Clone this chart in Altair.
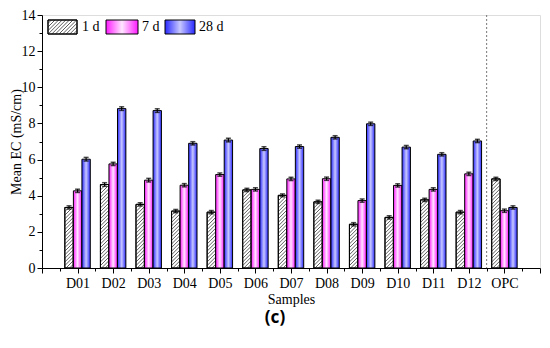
import altair as alt
import pandas as pd

samples = ["D01", "D02", "D03", "D04", "D05", "D06", "D07", "D08", "D09", "D10", "D11", "D12", "OPC"]
positions = list(range(1, 14))
ec_1d = [3.35, 4.62, 3.52, 3.15, 3.09, 4.32, 4.02, 3.66, 2.42, 2.80, 3.77, 3.09, 4.93]
ec_7d = [4.27, 5.76, 4.86, 4.58, 5.17, 4.35, 4.93, 4.94, 3.73, 4.57, 4.35, 5.21, 3.17]
ec_28d = [6.02, 8.82, 8.71, 6.90, 7.08, 6.61, 6.72, 7.23, 7.98, 6.69, 6.29, 7.03, 3.35]
err_1d = [0.09, 0.10, 0.09, 0.09, 0.09, 0.09, 0.08, 0.09, 0.09, 0.09, 0.09, 0.09, 0.09]
err_7d = [0.09, 0.09, 0.10, 0.09, 0.09, 0.09, 0.09, 0.09, 0.09, 0.09, 0.09, 0.09, 0.09]
err_28d = [0.10, 0.10, 0.10, 0.09, 0.10, 0.10, 0.09, 0.09, 0.09, 0.09, 0.09, 0.09, 0.09]
series_names = ["1 d", "7 d", "28 d"]
series_offsets = [-0.24, 0.0, 0.24]
separator = [12.5]
y_ticks = list(range(0, 15))
x_ticks = [i * 0.5 for i in range(29)]

W, H = 498, 253
PXX = W / 14.0
PXY = H / 14.0
BW = 0.235  # bar width in x units

rows = []
for name, vals, errs, off in zip(series_names, [ec_1d, ec_7d, ec_28d], [err_1d, err_7d, err_28d], series_offsets):
    for s, p, v, e in zip(samples, positions, vals, errs):
        c = p + off
        rows.append(dict(sample=s, series=name, value=v, zero=0.0, err=e, xc=c,
                         xl=c - BW / 2, xr=c + BW / 2, lo=v - e, hi=v + e))
df = pd.DataFrame(rows)

step = 3.6  # hatch spacing (px)


def hatch_segments(xl, xr, ybot, ytop):
    """diagonal '/' hatch segments inside a rectangle given in data units"""
    out = []
    wpx = (xr - xl) * PXX
    hpx = (ytop - ybot) * PXY
    c = -wpx
    while c < hpx:
        ta = max(0.0, -c)
        tb = min(wpx, hpx - c)
        if tb > ta:
            out.append(dict(x=xl + ta / PXX, y=ybot + (c + ta) / PXY,
                            x2=xl + tb / PXX, y2=ybot + (c + tb) / PXY))
        c += step
    return out


hatch = []
for r in df[df.series == "1 d"].itertuples():
    hatch += hatch_segments(r.xl, r.xr, 0.0, r.value)
hdf = pd.DataFrame(hatch)

# legend layout (pixels from plot top-left), converted to data units
leg_px = dict(x0=[6, 64, 123], x1=[35, 96, 153], tx=[40, 100, 157])
leg_y0_px, leg_y1_px, leg_ty_px = 5, 19, 12
leg = pd.DataFrame({
    "series": series_names,
    "x0": [v / PXX for v in leg_px["x0"]],
    "x1": [v / PXX for v in leg_px["x1"]],
    "tx": [v / PXX for v in leg_px["tx"]],
    "ytop": [14 - leg_y0_px / PXY] * 3,
    "ybot": [14 - leg_y1_px / PXY] * 3,
    "ty": [14 - leg_ty_px / PXY] * 3,
})
r0 = leg.iloc[0]
lh = pd.DataFrame(hatch_segments(r0.x0, r0.x1, r0.ybot, r0.ytop))

xscale = alt.Scale(domain=[0, 14], nice=False, zero=False)
yscale = alt.Scale(domain=[0, 14], nice=False, zero=False)

label_arr = "[" + ",".join("'" + s + "'" for s in samples) + "]"
x_axis = alt.Axis(
    values=x_ticks, title="Samples", grid=False,
    labelExpr=f"(datum.value % 1 === 0 && datum.value >= 1 && datum.value <= 13) ? {label_arr}[datum.value - 1] : ''",
    labelOverlap=False, labelFont="Liberation Serif", labelFontSize=14, labelColor="black",
    titleFont="Liberation Serif", titleFontSize=14, titleFontWeight="normal", titleColor="black",
    tickSize={"condition": {"test": "datum.value % 1 === 0", "value": 5}, "value": 3},
    labelPadding=3, titlePadding=2, domainColor="black", tickColor="black",
)
y_axis = alt.Axis(
    values=y_ticks, title="Mean EC (mS/cm)", grid=False,
    labelExpr="datum.value % 2 === 0 ? datum.label : ''",
    labelOverlap=False, labelFont="Liberation Serif", labelFontSize=14, labelColor="black",
    titleFont="Liberation Serif", titleFontSize=14, titleFontWeight="normal", titleColor="black",
    tickSize={"condition": {"test": "datum.value % 2 === 0", "value": 5}, "value": 3},
    labelPadding=2, titlePadding=-2, domainColor="black", tickColor="black",
)


def X(f):
    return alt.X(f, type="quantitative", scale=xscale, axis=x_axis)


def Y(f):
    return alt.Y(f, type="quantitative", scale=yscale, axis=y_axis)


pink_grad = alt.LinearGradient(gradient="linear", x1=0, x2=1, y1=0, y2=0, stops=[
    alt.GradientStop(color="#ff1aff", offset=0),
    alt.GradientStop(color="#ffe6ff", offset=0.5),
    alt.GradientStop(color="#ff1aff", offset=1)])
blue_grad = alt.LinearGradient(gradient="linear", x1=0, x2=1, y1=0, y2=0, stops=[
    alt.GradientStop(color="#2828ff", offset=0),
    alt.GradientStop(color="#c8c8ff", offset=0.5),
    alt.GradientStop(color="#2828ff", offset=1)])

base = alt.Chart(df)


def bar_layer(name, **mk):
    return base.transform_filter(f"datum.series === '{name}'").mark_bar(**mk).encode(
        x=X("xl"), x2="xr", y=Y("value"), y2="zero")


bars1 = bar_layer("1 d", fill="white", stroke="black", strokeWidth=1)
hatch_layer = alt.Chart(hdf).mark_rule(color="#333333", strokeWidth=0.8).encode(
    x=X("x"), x2="x2", y=Y("y"), y2="y2")
bars1_outline = bar_layer("1 d", fillOpacity=0, stroke="black", strokeWidth=1)
bars7 = bar_layer("7 d", fill=pink_grad, stroke="black", strokeWidth=1)
bars28 = bar_layer("28 d", fill=blue_grad, stroke="black", strokeWidth=1)

err_rule = base.mark_rule(color="black", strokeWidth=1.2).encode(x=X("xc"), y=Y("lo"), y2="hi")
cap_hi = base.mark_tick(color="black", orient="horizontal", size=5, thickness=1.5).encode(x=X("xc"), y=Y("hi"))
cap_lo = base.mark_tick(color="black", orient="horizontal", size=5, thickness=1.5).encode(x=X("xc"), y=Y("lo"))

sep = alt.Chart(pd.DataFrame({"x": separator})).mark_rule(
    color="#777777", strokeWidth=1, strokeDash=[2, 2]).encode(x=X("x"))

lb = alt.Chart(leg)


def leg_rect(name, **mk):
    return lb.transform_filter(f"datum.series === '{name}'").mark_rect(stroke="black", strokeWidth=1, **mk).encode(
        x=X("x0"), x2="x1", y=Y("ytop"), y2="ybot")


leg1 = leg_rect("1 d", fill="white")
leg_h = alt.Chart(lh).mark_rule(color="#333333", strokeWidth=0.8).encode(x=X("x"), x2="x2", y=Y("y"), y2="y2")
leg1o = leg_rect("1 d", fillOpacity=0)
leg7 = leg_rect("7 d", fill=pink_grad)
leg28 = leg_rect("28 d", fill=blue_grad)
leg_text = lb.mark_text(align="left", baseline="middle", font="Liberation Serif", fontSize=14, color="black").encode(
    x=X("tx"), y=Y("ty"), text="series:N")

caption = alt.Chart(pd.DataFrame({"t": ["(c)"]})).mark_text(
    font="Noto Sans", fontSize=17, fontWeight="bold", color="black", align="center", baseline="middle").encode(
    x=alt.value(W / 2 - 16), y=alt.value(303), text="t:N")

chart = alt.layer(
    bars1, hatch_layer, bars1_outline, bars7, bars28, err_rule, cap_hi, cap_lo, sep,
    leg1, leg_h, leg1o, leg7, leg28, leg_text, caption
).properties(
    width=W, height=H,
    autosize=alt.AutoSizeParams(type="none"),
    padding={"left": 34, "top": 7, "right": 2, "bottom": 68},
).configure_view(stroke="#c8c8c8", strokeWidth=1).configure_axis(
    labelFont="Liberation Serif", labelFontSize=14, labelColor="black", labelOverlap=False,
    titleFont="Liberation Serif", titleFontSize=14, titleFontWeight="normal", titleColor="black",
    domainColor="black", tickColor="black", grid=False,
).configure(background="white")

chart.save("out.html", embed_options={"renderer": "svg", "actions": False})
